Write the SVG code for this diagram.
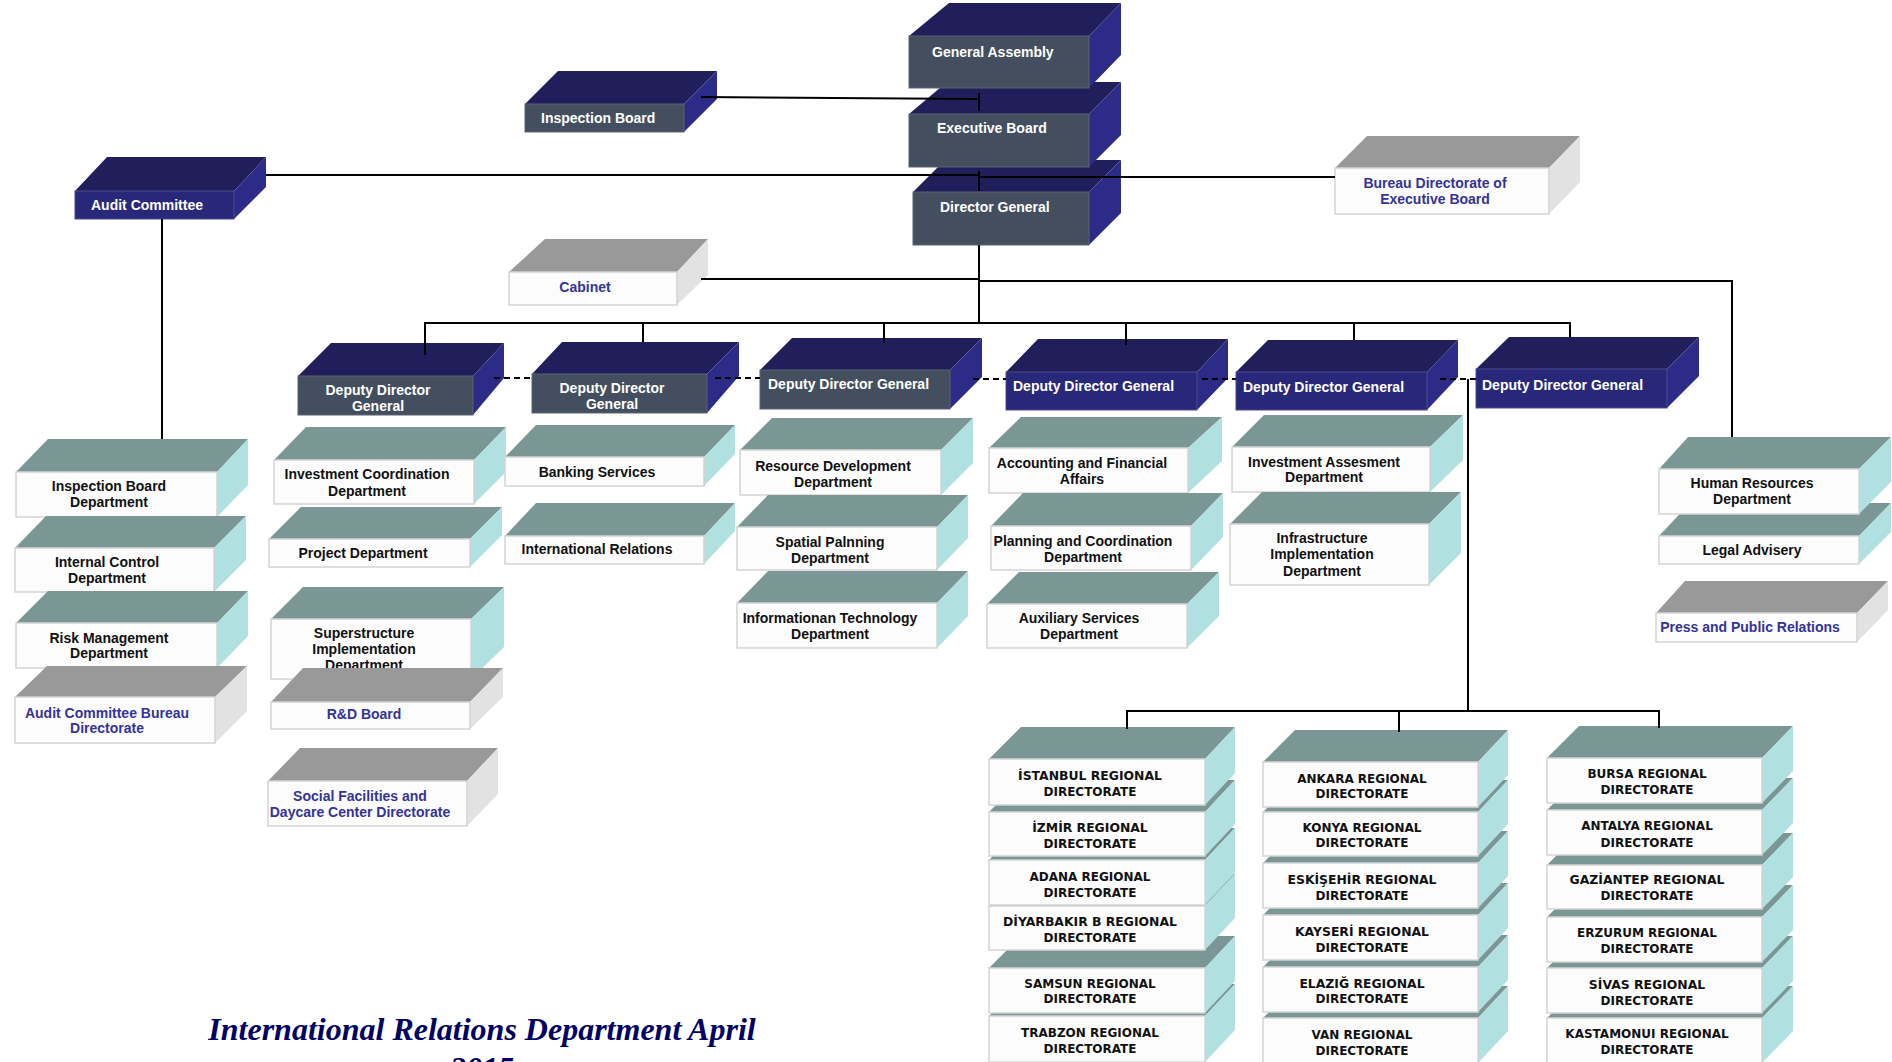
<svg xmlns="http://www.w3.org/2000/svg" width="1892" height="1062" viewBox="0 0 1892 1062">
<style>
.nt{fill:#201f5b}.ns{fill:#2c2b87}.fs{fill:#434f5f;stroke:#5a6372;stroke-width:1}.fn{fill:#28287a;stroke:#4a4a8e;stroke-width:1}
.tt{fill:#7b9795}.ts{fill:#b0e0e0}.gt{fill:#999999}.gs{fill:#e2e2e2}
.wf{fill:#fcfcfc;stroke:#d4d4d4;stroke-width:1.5}
text{font-family:"Liberation Sans",Arial,sans-serif;font-weight:bold;font-size:14px}
.hw{fill:#ffffff}.dk{fill:#111111;text-anchor:middle}.bl{fill:#333399;text-anchor:middle}
.rg{font-family:"DejaVu Sans",Verdana,sans-serif;font-size:12px;fill:#111111;text-anchor:middle}
.tk{font-size:12.4px}
.ln{stroke:#000;stroke-width:2;fill:none}
.dl{stroke:#000;stroke-width:2;fill:none;stroke-dasharray:6,4}
.title{font-family:"Liberation Serif","Times New Roman",serif;font-style:italic;font-weight:bold;font-size:32px;fill:#000066;text-anchor:middle}
</style>
<rect width="1892" height="1062" fill="#ffffff"/>

<g id="director-general">
<polygon class="nt" points="913,192 945,160 1121,160 1089,192"/>
<polygon class="ns" points="1089,192 1121,160 1121,213 1089,245"/>
<rect class="fs" x="913" y="192" width="176" height="53"/>
<text class="hw" x="940" y="212">Director General</text>
</g>
<g id="executive-board">
<polygon class="nt" points="909,114 947,82 1121,82 1089,114"/>
<polygon class="ns" points="1089,114 1121,82 1121,135 1089,167"/>
<rect class="fs" x="909" y="114" width="180" height="53"/>
<text class="hw" x="937" y="133">Executive Board</text>
</g>
<g id="general-assembly">
<polygon class="nt" points="909,36 949,3 1121,3 1089,36"/>
<polygon class="ns" points="1089,36 1121,3 1121,55 1089,88"/>
<rect class="fs" x="909" y="36" width="180" height="52"/>
<text class="hw" x="932" y="57">General Assembly</text>
</g>
<g id="inspection-board">
<polygon class="nt" points="525,104 558,71 717,71 684,104"/>
<polygon class="ns" points="684,104 717,71 717,99 684,132"/>
<rect class="fs" x="525" y="104" width="159" height="28"/>
<text class="hw" x="541" y="123">Inspection Board</text>
</g>
<g id="audit-committee">
<polygon class="nt" points="75,191 107,157 266,157 234,191"/>
<polygon class="ns" points="234,191 266,157 266,187 234,219"/>
<rect class="fn" x="75" y="191" width="159" height="28"/>
<text class="hw" x="91" y="210">Audit Committee</text>
</g>
<g id="cabinet">
<polygon class="gt" points="509,272 545,239 708,239 677,272"/>
<polygon class="gs" points="677,272 708,239 708,275 677,305"/>
<rect class="wf" x="509" y="272" width="168" height="33"/>
<text class="bl" x="585" y="292">Cabinet</text>
</g>
<g id="bureau-directorate">
<polygon class="gt" points="1335,168 1367,136 1580,136 1549,168"/>
<polygon class="gs" points="1549,168 1580,136 1580,182 1549,214"/>
<rect class="wf" x="1335" y="168" width="214" height="46"/>
<text class="bl"><tspan x="1435" y="188">Bureau Directorate of</tspan><tspan x="1435" y="204">Executive Board</tspan></text>
</g>

<g id="ddg1">
<polygon class="nt" points="298,376 331,343 504,343 473,376"/>
<polygon class="ns" points="473,376 504,343 504,378 473,415"/>
<rect class="fs" x="298" y="376" width="175" height="39"/>
<text class="hw" text-anchor="middle"><tspan x="378" y="395">Deputy Director</tspan><tspan x="378" y="411">General</tspan></text>
</g>
<g id="ddg2">
<polygon class="nt" points="532,374 562,342 739,342 707,374"/>
<polygon class="ns" points="707,374 739,342 739,376 707,413"/>
<rect class="fs" x="532" y="374" width="175" height="39"/>
<text class="hw" text-anchor="middle"><tspan x="612" y="393">Deputy Director</tspan><tspan x="612" y="409">General</tspan></text>
</g>
<g id="ddg3">
<polygon class="nt" points="760,370 792,338 982,338 950,370"/>
<polygon class="ns" points="950,370 982,338 982,377 950,409"/>
<rect class="fs" x="760" y="370" width="190" height="39"/>
<text class="hw" x="768" y="389">Deputy Director General</text>
</g>
<g id="ddg4">
<polygon class="nt" points="1006,372 1038,339 1228,339 1197,372"/>
<polygon class="ns" points="1197,372 1228,339 1228,378 1197,410"/>
<rect class="fn" x="1006" y="372" width="191" height="38"/>
<text class="hw" x="1013" y="391">Deputy Director General</text>
</g>
<g id="ddg5">
<polygon class="nt" points="1236,372 1268,340 1458,340 1427,372"/>
<polygon class="ns" points="1427,372 1458,340 1458,377 1427,410"/>
<rect class="fn" x="1236" y="372" width="191" height="38"/>
<text class="hw" x="1243" y="392">Deputy Director General</text>
</g>
<g id="ddg6">
<polygon class="nt" points="1476,369 1509,337 1699,337 1667,369"/>
<polygon class="ns" points="1667,369 1699,337 1699,376 1667,408"/>
<rect class="fn" x="1476" y="369" width="191" height="39"/>
<text class="hw" x="1482" y="390">Deputy Director General</text>
</g>

<g id="inspection-board-dept">
<polygon class="tt" points="16,472 48,439 248,439 217,472"/>
<polygon class="ts" points="217,472 248,439 248,485 217,517"/>
<rect class="wf" x="16" y="472" width="201" height="45"/>
<text class="dk"><tspan x="109" y="491">Inspection Board</tspan><tspan x="109" y="507">Department</tspan></text>
</g>
<g id="internal-control">
<polygon class="tt" points="15,548 46,516 246,516 214,548"/>
<polygon class="ts" points="214,548 246,516 246,560 214,592"/>
<rect class="wf" x="15" y="548" width="199" height="44"/>
<text class="dk"><tspan x="107" y="567">Internal Control</tspan><tspan x="107" y="583">Department</tspan></text>
</g>
<g id="risk-management">
<polygon class="tt" points="16,623 48,591 248,591 217,623"/>
<polygon class="ts" points="217,623 248,591 248,636 217,668"/>
<rect class="wf" x="16" y="623" width="201" height="45"/>
<text class="dk"><tspan x="109" y="643">Risk Management</tspan><tspan x="109" y="658">Department</tspan></text>
</g>
<g id="audit-bureau">
<polygon class="gt" points="15,697 47,666 247,666 215,697"/>
<polygon class="gs" points="215,697 247,666 247,711 215,743"/>
<rect class="wf" x="15" y="697" width="200" height="46"/>
<text class="bl"><tspan x="107" y="718">Audit Committee Bureau</tspan><tspan x="107" y="733">Directorate</tspan></text>
</g>

<g id="investment-coordination">
<polygon class="tt" points="274,460 306,427 506,427 474,460"/>
<polygon class="ts" points="474,460 506,427 506,472 474,504"/>
<rect class="wf" x="274" y="460" width="200" height="44"/>
<text class="dk"><tspan x="367" y="479">Investment Coordination</tspan><tspan x="367" y="496">Department</tspan></text>
</g>
<g id="project-dept">
<polygon class="tt" points="269,539 301,507 502,507 470,539"/>
<polygon class="ts" points="470,539 502,507 502,535 470,567"/>
<rect class="wf" x="269" y="539" width="201" height="28"/>
<text class="dk" x="363" y="558">Project Department</text>
</g>
<g id="superstructure">
<polygon class="tt" points="271,619 303,587 504,587 471,619"/>
<polygon class="ts" points="471,619 504,587 504,647 471,679"/>
<rect class="wf" x="271" y="619" width="200" height="60"/>
<text class="dk"><tspan x="364" y="638">Superstructure</tspan><tspan x="364" y="654">Implementation</tspan><tspan x="364" y="670">Department</tspan></text>
</g>
<g id="rd-board">
<polygon class="gt" points="271,702 303,668 503,668 470,702"/>
<polygon class="gs" points="470,702 503,668 503,697 470,729"/>
<rect class="wf" x="271" y="702" width="199" height="27"/>
<text class="bl" x="364" y="719">R&amp;D Board</text>
</g>
<g id="social-facilities">
<polygon class="gt" points="268,781 300,748 498,748 467,781"/>
<polygon class="gs" points="467,781 498,748 498,794 467,826"/>
<rect class="wf" x="268" y="781" width="199" height="45"/>
<text class="bl"><tspan x="360" y="801">Social Facilities and</tspan><tspan x="360" y="817">Daycare Center Directorate</tspan></text>
</g>

<g id="banking-services">
<polygon class="tt" points="505,457 536,425 735,425 704,457"/>
<polygon class="ts" points="704,457 735,425 735,454 704,486"/>
<rect class="wf" x="505" y="457" width="199" height="29"/>
<text class="dk" x="597" y="477">Banking Services</text>
</g>
<g id="international-relations">
<polygon class="tt" points="505,536 536,503 735,503 704,536"/>
<polygon class="ts" points="704,536 735,503 735,531 704,564"/>
<rect class="wf" x="505" y="536" width="199" height="28"/>
<text class="dk" x="597" y="554">International Relations</text>
</g>

<g id="resource-development">
<polygon class="tt" points="740,450 772,418 973,418 941,450"/>
<polygon class="ts" points="941,450 973,418 973,463 941,495"/>
<rect class="wf" x="740" y="450" width="201" height="45"/>
<text class="dk"><tspan x="833" y="471">Resource Development</tspan><tspan x="833" y="487">Department</tspan></text>
</g>
<g id="spatial-planning">
<polygon class="tt" points="737,527 768,495 968,495 937,527"/>
<polygon class="ts" points="937,527 968,495 968,538 937,570"/>
<rect class="wf" x="737" y="527" width="200" height="43"/>
<text class="dk"><tspan x="830" y="547">Spatial Palnning</tspan><tspan x="830" y="563">Department</tspan></text>
</g>
<g id="information-technology">
<polygon class="tt" points="737,603 768,571 968,571 937,603"/>
<polygon class="ts" points="937,603 968,571 968,616 937,648"/>
<rect class="wf" x="737" y="603" width="200" height="45"/>
<text class="dk"><tspan x="830" y="623">Informationan Technology</tspan><tspan x="830" y="639">Department</tspan></text>
</g>

<g id="accounting">
<polygon class="tt" points="989,448 1021,417 1222,417 1188,448"/>
<polygon class="ts" points="1188,448 1222,417 1222,461 1188,493"/>
<rect class="wf" x="989" y="448" width="199" height="45"/>
<text class="dk"><tspan x="1082" y="468">Accounting and Financial</tspan><tspan x="1082" y="484">Affairs</tspan></text>
</g>
<g id="planning-coordination">
<polygon class="tt" points="991,526 1023,493 1223,493 1191,526"/>
<polygon class="ts" points="1191,526 1223,493 1223,537 1191,570"/>
<rect class="wf" x="991" y="526" width="200" height="44"/>
<text class="dk"><tspan x="1083" y="546">Planning and Coordination</tspan><tspan x="1083" y="562">Department</tspan></text>
</g>
<g id="auxiliary-services">
<polygon class="tt" points="987,604 1019,572 1219,572 1187,604"/>
<polygon class="ts" points="1187,604 1219,572 1219,616 1187,648"/>
<rect class="wf" x="987" y="604" width="200" height="44"/>
<text class="dk"><tspan x="1079" y="623">Auxiliary Services</tspan><tspan x="1079" y="639">Department</tspan></text>
</g>

<g id="investment-assesment">
<polygon class="tt" points="1232,447 1264,415 1463,415 1430,447"/>
<polygon class="ts" points="1430,447 1463,415 1463,460 1430,492"/>
<rect class="wf" x="1232" y="447" width="198" height="45"/>
<text class="dk"><tspan x="1324" y="467">Investment Assesment</tspan><tspan x="1324" y="482">Department</tspan></text>
</g>
<g id="infrastructure">
<polygon class="tt" points="1230,524 1262,492 1461,492 1429,524"/>
<polygon class="ts" points="1429,524 1461,492 1461,553 1429,585"/>
<rect class="wf" x="1230" y="524" width="199" height="61"/>
<text class="dk"><tspan x="1322" y="543">Infrastructure</tspan><tspan x="1322" y="559">Implementation</tspan><tspan x="1322" y="576">Department</tspan></text>
</g>

<g id="legal-advisery">
<polygon class="tt" points="1659,536 1690,503 1891,503 1859,536"/>
<polygon class="ts" points="1859,536 1891,503 1891,532 1859,564"/>
<rect class="wf" x="1659" y="536" width="200" height="28"/>
<text class="dk" x="1752" y="555">Legal Advisery</text>
</g>
<g id="human-resources">
<polygon class="tt" points="1659,469 1688,437 1891,437 1859,469"/>
<polygon class="ts" points="1859,469 1891,437 1891,482 1859,514"/>
<rect class="wf" x="1659" y="469" width="200" height="45"/>
<text class="dk"><tspan x="1752" y="488">Human Resources</tspan><tspan x="1752" y="504">Department</tspan></text>
</g>
<g id="press-relations">
<polygon class="gt" points="1656,613 1685,581 1888,581 1857,613"/>
<polygon class="gs" points="1857,613 1888,581 1888,610 1857,642"/>
<rect class="wf" x="1656" y="613" width="201" height="29"/>
<text class="bl" x="1750" y="632">Press and Public Relations</text>
</g>

<g id="trabzon">
<polygon class="tt" points="989,1016 1021,984 1235,984 1205,1016"/>
<polygon class="ts" points="1205,1016 1235,984 1235,1030 1205,1062"/>
<rect class="wf" x="989" y="1016" width="216" height="46"/>
<text class="rg"><tspan x="1090" y="1037">TRABZON REGIONAL</tspan><tspan x="1090" y="1053">DIRECTORATE</tspan></text>
</g>
<g id="samsun">
<polygon class="tt" points="989,968 1021,936 1235,936 1205,968"/>
<polygon class="ts" points="1205,968 1235,936 1235,981 1205,1013"/>
<rect class="wf" x="989" y="968" width="216" height="45"/>
<text class="rg"><tspan x="1090" y="988">SAMSUN REGIONAL</tspan><tspan x="1090" y="1003">DIRECTORATE</tspan></text>
</g>
<g id="diyarbakir">
<polygon class="tt" points="989,906 1021,874 1235,874 1205,906"/>
<polygon class="ts" points="1205,906 1235,874 1235,918 1205,950"/>
<rect class="wf" x="989" y="906" width="216" height="44"/>
<text class="rg"><tspan class="tk" x="1090" y="926">DİYARBAKIR B REGIONAL</tspan><tspan x="1090" y="942">DIRECTORATE</tspan></text>
</g>
<g id="adana">
<polygon class="tt" points="989,860 1021,828 1235,828 1205,860"/>
<polygon class="ts" points="1205,860 1235,828 1235,873 1205,905"/>
<rect class="wf" x="989" y="860" width="216" height="45"/>
<text class="rg"><tspan x="1090" y="881">ADANA REGIONAL</tspan><tspan x="1090" y="897">DIRECTORATE</tspan></text>
</g>
<g id="izmir">
<polygon class="tt" points="989,812 1021,780 1235,780 1205,812"/>
<polygon class="ts" points="1205,812 1235,780 1235,824 1205,856"/>
<rect class="wf" x="989" y="812" width="216" height="44"/>
<text class="rg"><tspan class="tk" x="1090" y="832">İZMİR REGIONAL</tspan><tspan x="1090" y="848">DIRECTORATE</tspan></text>
</g>
<g id="istanbul">
<polygon class="tt" points="989,759 1021,727 1235,727 1205,759"/>
<polygon class="ts" points="1205,759 1235,727 1235,773 1205,805"/>
<rect class="wf" x="989" y="759" width="216" height="46"/>
<text class="rg"><tspan class="tk" x="1090" y="780">İSTANBUL REGIONAL</tspan><tspan x="1090" y="796">DIRECTORATE</tspan></text>
</g>

<g id="van">
<polygon class="tt" points="1263,1018 1295,986 1508,986 1478,1018"/>
<polygon class="ts" points="1478,1018 1508,986 1508,1031 1478,1063"/>
<rect class="wf" x="1263" y="1018" width="215" height="45"/>
<text class="rg"><tspan x="1362" y="1039">VAN REGIONAL</tspan><tspan x="1362" y="1055">DIRECTORATE</tspan></text>
</g>
<g id="elazig">
<polygon class="tt" points="1263,967 1295,935 1508,935 1478,967"/>
<polygon class="ts" points="1478,967 1508,935 1508,980 1478,1012"/>
<rect class="wf" x="1263" y="967" width="215" height="45"/>
<text class="rg"><tspan class="tk" x="1362" y="988">ELAZIĞ REGIONAL</tspan><tspan x="1362" y="1003">DIRECTORATE</tspan></text>
</g>
<g id="kayseri">
<polygon class="tt" points="1263,915 1295,883 1508,883 1478,915"/>
<polygon class="ts" points="1478,915 1508,883 1508,928 1478,960"/>
<rect class="wf" x="1263" y="915" width="215" height="45"/>
<text class="rg"><tspan class="tk" x="1362" y="936">KAYSERİ REGIONAL</tspan><tspan x="1362" y="952">DIRECTORATE</tspan></text>
</g>
<g id="eskisehir">
<polygon class="tt" points="1263,863 1295,831 1508,831 1478,863"/>
<polygon class="ts" points="1478,863 1508,831 1508,876 1478,908"/>
<rect class="wf" x="1263" y="863" width="215" height="45"/>
<text class="rg"><tspan class="tk" x="1362" y="884">ESKİŞEHİR REGIONAL</tspan><tspan x="1362" y="900">DIRECTORATE</tspan></text>
</g>
<g id="konya">
<polygon class="tt" points="1263,812 1295,780 1508,780 1478,812"/>
<polygon class="ts" points="1478,812 1508,780 1508,824 1478,856"/>
<rect class="wf" x="1263" y="812" width="215" height="44"/>
<text class="rg"><tspan x="1362" y="832">KONYA REGIONAL</tspan><tspan x="1362" y="847">DIRECTORATE</tspan></text>
</g>
<g id="ankara">
<polygon class="tt" points="1263,762 1295,730 1508,730 1478,762"/>
<polygon class="ts" points="1478,762 1508,730 1508,775 1478,807"/>
<rect class="wf" x="1263" y="762" width="215" height="45"/>
<text class="rg"><tspan x="1362" y="783">ANKARA REGIONAL</tspan><tspan x="1362" y="798">DIRECTORATE</tspan></text>
</g>

<g id="kastamonu">
<polygon class="tt" points="1547,1018 1579,986 1793,986 1762,1018"/>
<polygon class="ts" points="1762,1018 1793,986 1793,1031 1762,1063"/>
<rect class="wf" x="1547" y="1018" width="215" height="45"/>
<text class="rg"><tspan x="1647" y="1038">KASTAMONUI REGIONAL</tspan><tspan x="1647" y="1054">DIRECTORATE</tspan></text>
</g>
<g id="sivas">
<polygon class="tt" points="1547,968 1579,936 1793,936 1762,968"/>
<polygon class="ts" points="1762,968 1793,936 1793,981 1762,1013"/>
<rect class="wf" x="1547" y="968" width="215" height="45"/>
<text class="rg"><tspan class="tk" x="1647" y="989">SİVAS REGIONAL</tspan><tspan x="1647" y="1005">DIRECTORATE</tspan></text>
</g>
<g id="erzurum">
<polygon class="tt" points="1547,917 1579,885 1793,885 1762,917"/>
<polygon class="ts" points="1762,917 1793,885 1793,930 1762,962"/>
<rect class="wf" x="1547" y="917" width="215" height="45"/>
<text class="rg"><tspan x="1647" y="937">ERZURUM REGIONAL</tspan><tspan x="1647" y="953">DIRECTORATE</tspan></text>
</g>
<g id="gaziantep">
<polygon class="tt" points="1547,865 1579,833 1793,833 1762,865"/>
<polygon class="ts" points="1762,865 1793,833 1793,877 1762,909"/>
<rect class="wf" x="1547" y="865" width="215" height="44"/>
<text class="rg"><tspan class="tk" x="1647" y="884">GAZİANTEP REGIONAL</tspan><tspan x="1647" y="900">DIRECTORATE</tspan></text>
</g>
<g id="antalya">
<polygon class="tt" points="1547,810 1579,778 1793,778 1762,810"/>
<polygon class="ts" points="1762,810 1793,778 1793,823 1762,855"/>
<rect class="wf" x="1547" y="810" width="215" height="45"/>
<text class="rg"><tspan x="1647" y="830">ANTALYA REGIONAL</tspan><tspan x="1647" y="847">DIRECTORATE</tspan></text>
</g>
<g id="bursa">
<polygon class="tt" points="1547,758 1579,726 1793,726 1762,758"/>
<polygon class="ts" points="1762,758 1793,726 1793,771 1762,803"/>
<rect class="wf" x="1547" y="758" width="215" height="45"/>
<text class="rg"><tspan x="1647" y="778">BURSA REGIONAL</tspan><tspan x="1647" y="794">DIRECTORATE</tspan></text>
</g>

<g id="connectors">
<polyline class="ln" points="701,97 979,99"/>
<line class="ln" x1="979" y1="93" x2="979" y2="111"/>
<polyline class="ln" points="266,175 979,175 979,177 1335,177"/>
<line class="ln" x1="979" y1="171" x2="979" y2="191"/>
<line class="ln" x1="979" y1="245" x2="979" y2="323"/>
<line class="ln" x1="701" y1="279" x2="979" y2="279"/>
<polyline class="ln" points="979,281 1732,281 1732,437"/>
<line class="ln" x1="162" y1="219" x2="162" y2="439"/>
<line class="ln" x1="425" y1="323" x2="1570" y2="323"/>
<line class="ln" x1="425" y1="322" x2="425" y2="355"/>
<line class="ln" x1="643" y1="323" x2="643" y2="342"/>
<line class="ln" x1="884" y1="323" x2="884" y2="343"/>
<line class="ln" x1="1126" y1="323" x2="1126" y2="345"/>
<line class="ln" x1="1354" y1="323" x2="1354" y2="340"/>
<line class="ln" x1="1570" y1="322" x2="1570" y2="337"/>
<line class="dl" x1="494" y1="378" x2="532" y2="378"/>
<line class="dl" x1="715" y1="378" x2="760" y2="378"/>
<line class="dl" x1="973" y1="379" x2="1006" y2="379"/>
<line class="dl" x1="1202" y1="379" x2="1236" y2="379"/>
<line class="dl" x1="1440" y1="379" x2="1476" y2="379"/>
<line class="ln" x1="1468" y1="379" x2="1468" y2="711"/>
<line class="ln" x1="1126" y1="711" x2="1660" y2="711"/>
<line class="ln" x1="1127" y1="710" x2="1127" y2="729"/>
<line class="ln" x1="1399" y1="711" x2="1399" y2="732"/>
<line class="ln" x1="1659" y1="710" x2="1659" y2="728"/>
</g>

<text class="title"><tspan x="482" y="1040">International Relations Department April</tspan><tspan x="482" y="1079">2015</tspan></text>
</svg>
